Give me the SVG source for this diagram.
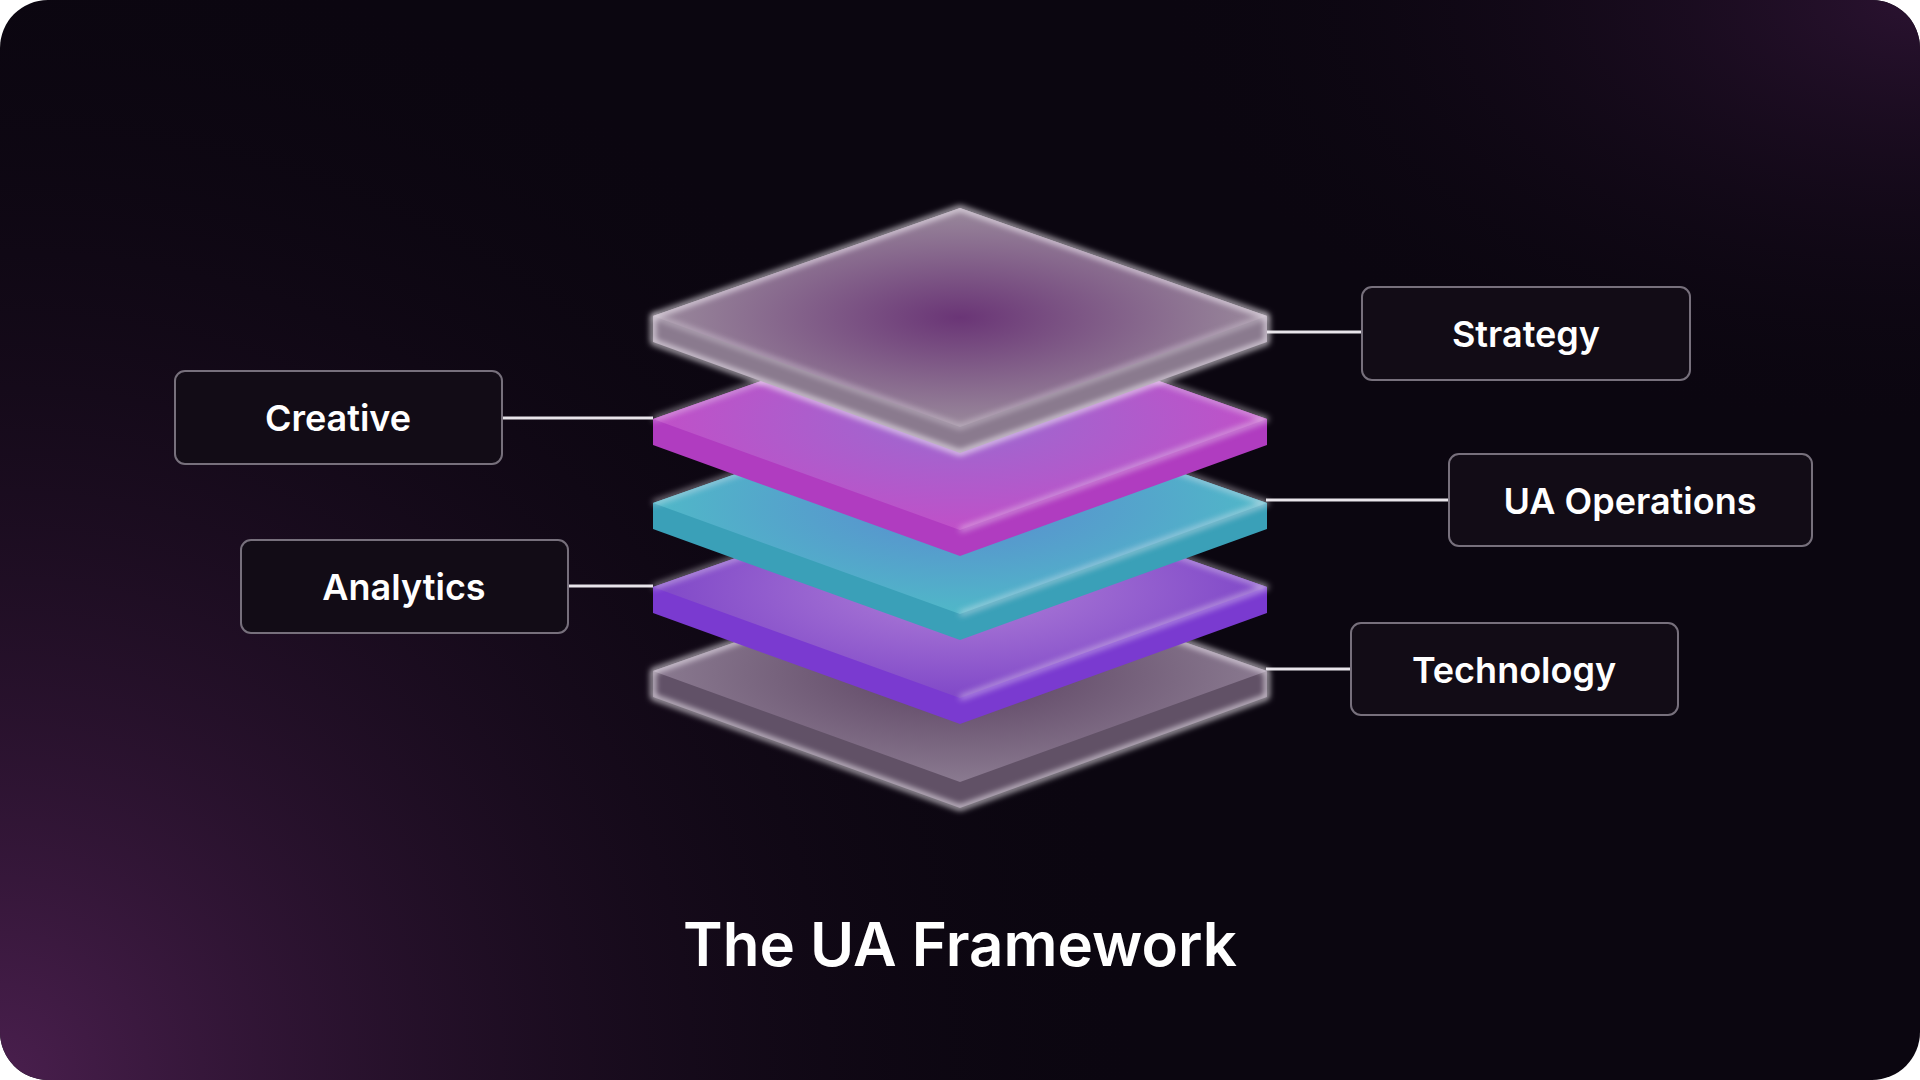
<svg xmlns="http://www.w3.org/2000/svg" width="1920" height="1080" viewBox="0 0 1920 1080">
<defs>
<radialGradient id="bl" cx="0" cy="1" r="0.6" gradientTransform="scale(1,1.78) translate(0,-0.438)"><stop offset="0" stop-color="#4a1f4e"/><stop offset="1" stop-color="#0b0610" stop-opacity="0"/></radialGradient>
<radialGradient id="tr" cx="1" cy="0" r="0.4"><stop offset="0" stop-color="#2a1230"/><stop offset="1" stop-color="#0b0610" stop-opacity="0"/></radialGradient>
<radialGradient id="g0" cx="0.5" cy="0.5" r="0.5"><stop offset="0" stop-color="#6a3576"/><stop offset="1" stop-color="#9a8a9c"/></radialGradient>
<radialGradient id="g1" cx="0.5" cy="0.5" r="0.5"><stop offset="0" stop-color="#9a6ad0"/><stop offset="1" stop-color="#c050c8"/></radialGradient>
<radialGradient id="g2" cx="0.5" cy="0.5" r="0.5"><stop offset="0" stop-color="#5a8ad0"/><stop offset="1" stop-color="#50b8c8"/></radialGradient>
<radialGradient id="g3" cx="0.5" cy="0.5" r="0.5"><stop offset="0" stop-color="#b080d8"/><stop offset="1" stop-color="#8048c8"/></radialGradient>
<radialGradient id="g4" cx="0.5" cy="0.5" r="0.5"><stop offset="0" stop-color="#5a4060"/><stop offset="1" stop-color="#8a7a90"/></radialGradient>
<filter id="bl1"><feGaussianBlur stdDeviation="3"/></filter>
</defs>
<style>
.box{fill:#120c16;stroke:#77707c;stroke-width:2}
.lbl{font-family:Inter,"Liberation Sans",sans-serif;font-weight:600;font-size:36px;fill:#fff;text-anchor:middle}
.ln{stroke:#e8e4ea;stroke-width:3}
.edge{fill:none;stroke:#f4eef6;stroke-width:4;stroke-linejoin:round;filter:url(#bl1)}
</style>
<rect width="1920" height="1080" fill="#fff"/>
<rect width="1920" height="1080" rx="48" fill="#0b0610"/>
<rect width="1920" height="1080" rx="48" fill="url(#bl)"/>
<rect width="1920" height="1080" rx="48" fill="url(#tr)"/>
<g id="connectors">
<line class="ln" x1="1266" y1="332" x2="1362" y2="332"/>
<line class="ln" x1="502" y1="418" x2="653" y2="418"/>
<line class="ln" x1="1266" y1="500" x2="1449" y2="500"/>
<line class="ln" x1="568" y1="586" x2="653" y2="586"/>
<line class="ln" x1="1266" y1="669" x2="1351" y2="669"/>
</g>
<g id="stack">
<g id="layer5">
<path d="M653 671 L960 563 L1267 671 L1267 697 L960 808 L653 697 Z" fill="#6a5a70" opacity="0.9"/>
<path d="M653 671 L960 563 L1267 671 L960 782 Z" fill="url(#g4)"/>
<path class="edge" d="M653 671 L960 563 L1267 671 L1267 697 L960 808 L653 697 Z"/>
</g>
<g id="layer4">
<path d="M653 587 L960 479 L1267 587 L1267 613 L960 724 L653 613 Z" fill="#7a3ad0"/>
<path d="M653 587 L960 479 L1267 587 L960 698 Z" fill="url(#g3)"/>
<path class="edge" d="M653 587 L960 479 L1267 587 L960 698" opacity="0.6"/>
</g>
<g id="layer3">
<path d="M653 503 L960 395 L1267 503 L1267 529 L960 640 L653 529 Z" fill="#3aa0b8"/>
<path d="M653 503 L960 395 L1267 503 L960 614 Z" fill="url(#g2)"/>
<path class="edge" d="M653 503 L960 395 L1267 503 L960 614" opacity="0.6"/>
</g>
<g id="layer2">
<path d="M653 419 L960 311 L1267 419 L1267 445 L960 556 L653 445 Z" fill="#b03cc0"/>
<path d="M653 419 L960 311 L1267 419 L960 530 Z" fill="url(#g1)"/>
<path class="edge" d="M653 419 L960 311 L1267 419 L960 530" opacity="0.6"/>
</g>
<g id="layer1">
<path d="M653 316 L960 208 L1267 316 L1267 342 L960 453 L653 342 Z" fill="#8a7a8e"/>
<path d="M653 316 L960 208 L1267 316 L960 427 Z" fill="url(#g0)"/>
<path class="edge" d="M653 316 L960 208 L1267 316 L1267 342 L960 453 L653 342 Z"/>
<path class="edge" d="M653 316 L960 427 L1267 316" opacity="0.5"/>
</g>
</g>
<g id="strategy"><rect class="box" x="1362" y="287" width="328" height="93" rx="10"/><text class="lbl" x="1526" y="347">Strategy</text></g>
<g id="creative"><rect class="box" x="175" y="371" width="327" height="93" rx="10"/><text class="lbl" x="338" y="431">Creative</text></g>
<g id="uaops"><rect class="box" x="1449" y="454" width="363" height="92" rx="10"/><text class="lbl" x="1630" y="514">UA Operations</text></g>
<g id="analytics"><rect class="box" x="241" y="540" width="327" height="93" rx="10"/><text class="lbl" x="404" y="600">Analytics</text></g>
<g id="technology"><rect class="box" x="1351" y="623" width="327" height="92" rx="10"/><text class="lbl" x="1514" y="683">Technology</text></g>
<text x="960" y="966" font-family="Inter,'Liberation Sans',sans-serif" font-weight="600" font-size="60" fill="#fff" text-anchor="middle">The UA Framework</text>
</svg>
